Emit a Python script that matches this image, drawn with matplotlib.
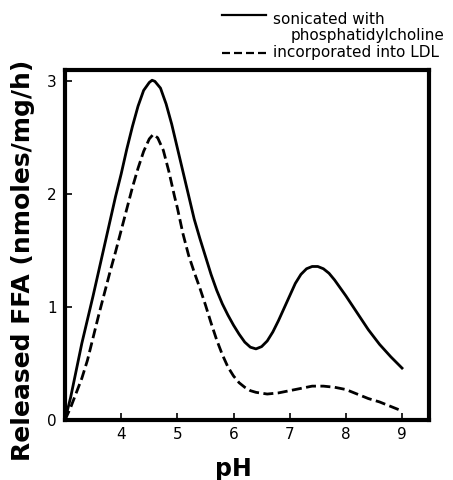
import numpy as np
import matplotlib
matplotlib.use("Agg")
import matplotlib.pyplot as plt

# valores (pH, FFA liberado en nmoles/mg/h)
ph_sonic = [3.0, 3.1, 3.2, 3.3, 3.4, 3.5, 3.6, 3.7, 3.8, 3.9, 4.0, 4.1, 4.2,
            4.3, 4.4, 4.5, 4.55, 4.6, 4.7, 4.8, 4.9, 5.0, 5.1, 5.2, 5.3, 5.4,
            5.5, 5.6, 5.7, 5.8, 5.9, 6.0, 6.1, 6.2, 6.3, 6.4, 6.5, 6.6, 6.7,
            6.8, 6.9, 7.0, 7.1, 7.2, 7.3, 7.4, 7.5, 7.6, 7.7, 7.8, 7.9, 8.0,
            8.2, 8.4, 8.6, 8.8, 9.0]
ffa_sonic = [0.0, 0.2, 0.44, 0.68, 0.89, 1.1, 1.32, 1.54, 1.76, 1.98, 2.18, 2.4, 2.6,
             2.78, 2.92, 2.99, 3.01, 3.0, 2.94, 2.8, 2.62, 2.41, 2.2, 1.99, 1.78, 1.61,
             1.45, 1.29, 1.15, 1.03, 0.93, 0.84, 0.76, 0.69, 0.645, 0.63, 0.65, 0.7, 0.78,
             0.88, 0.99, 1.1, 1.21, 1.29, 1.34, 1.36, 1.36, 1.34, 1.3, 1.24, 1.17, 1.1,
             0.95, 0.8, 0.67, 0.56, 0.46]

ph_ldl = [3.0, 3.1, 3.2, 3.3, 3.4, 3.5, 3.6, 3.7, 3.8, 3.9, 4.0, 4.1, 4.2,
          4.3, 4.4, 4.5, 4.57, 4.65, 4.75, 4.85, 4.95, 5.0, 5.1, 5.2, 5.3, 5.4,
          5.5, 5.6, 5.7, 5.8, 5.9, 6.0, 6.1, 6.2, 6.3, 6.4, 6.6, 6.8, 7.0,
          7.2, 7.4, 7.6, 7.8, 8.0, 8.2, 8.4, 8.6, 8.8, 9.0]
ffa_ldl = [0.0, 0.11, 0.24, 0.37, 0.53, 0.73, 0.93, 1.12, 1.31, 1.49, 1.68, 1.87, 2.06,
           2.23, 2.38, 2.49, 2.53, 2.5, 2.39, 2.2, 1.98, 1.88, 1.65, 1.46, 1.31, 1.17,
           1.02, 0.86, 0.71, 0.58, 0.47, 0.39, 0.33, 0.29, 0.26, 0.245, 0.23, 0.24, 0.26,
           0.28, 0.3, 0.3, 0.29, 0.27, 0.23, 0.19, 0.16, 0.12, 0.08]

xticks = [4, 5, 6, 7, 8, 9]
yticks = [0, 1, 2, 3]

plt.rcParams['font.family'] = ['DejaVu Sans']

fig = plt.figure(figsize=(4.53, 4.8), dpi=100)
ax = fig.add_axes([0.1435, 0.125, 0.8035, 0.729])

ax.plot(ph_sonic, ffa_sonic, color='black', lw=2.0, solid_joinstyle='round')
ax.plot(ph_ldl, ffa_ldl, color='black', lw=2.0, ls=(0, (3.6, 1.6)))

ax.set_xlim(3.0, 9.48)
ax.set_ylim(0, 3.1)
ax.set_xticks(xticks)
ax.set_yticks(yticks)
ax.tick_params(direction='in', length=5, width=1.2, labelsize=11)
ax.tick_params(axis='x', pad=5)
ax.tick_params(axis='y', pad=6)
for s in ax.spines.values():
    s.set_linewidth(3)

ax.set_xlabel('pH', fontsize=17, fontweight='bold')
ax.xaxis.set_label_coords(0.463, -0.105)
ax.set_ylabel('Released FFA (nmoles/mg/h)', fontsize=18, fontweight='bold', va='center')
ax.yaxis.set_label_coords(-0.116, 0.457)

# leyenda dibujada a mano encima del eje
tr = ax.transAxes
ax.plot([0.432, 0.551], [1.157, 1.157], color='black', lw=1.6, transform=tr, clip_on=False)
ax.text(0.572, 1.145, 'sonicated with', transform=tr, fontsize=11, va='center')
ax.text(0.620, 1.100, 'phosphatidylcholine', transform=tr, fontsize=11, va='center')
ax.plot([0.432, 0.562], [1.048, 1.048], color='black', lw=1.6, ls=(0, (3.6, 1.8)),
        transform=tr, clip_on=False)
ax.text(0.572, 1.050, 'incorporated into LDL', transform=tr, fontsize=11, va='center')

fig.savefig('out.png', dpi=100)
